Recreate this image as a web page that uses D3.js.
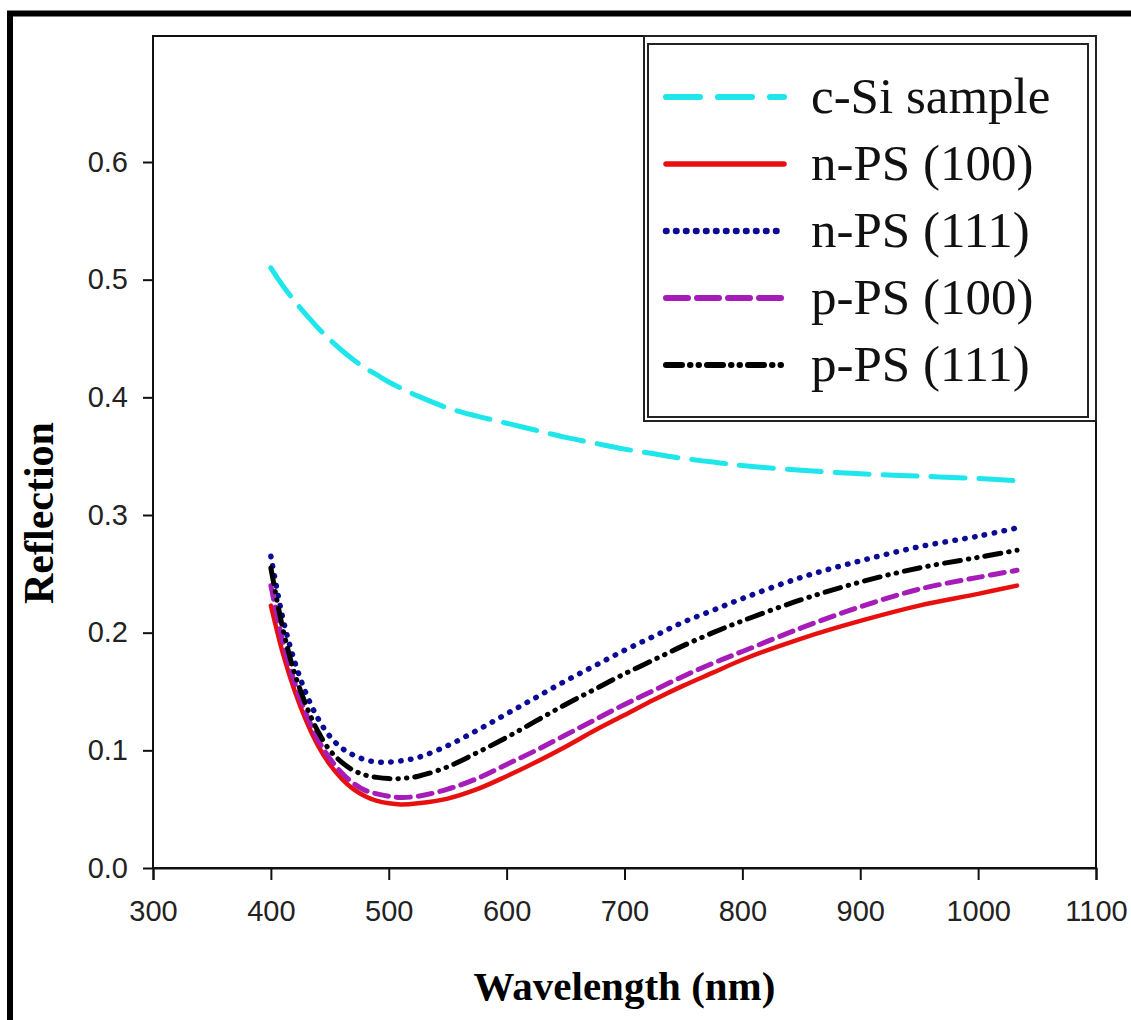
<!DOCTYPE html>
<html lang="en">
<head>
<meta charset="UTF-8">
<title>Reflection vs Wavelength</title>
<script src="https://d3js.org/d3.v7.min.js"></script>
<style>
    body { margin: 0; background: #fff; }
    .tick text { font-family: "Liberation Sans", Arial, sans-serif; font-size: 29px; fill: #222; }
</style>
</head>
<body>
<div id="chart"></div>
<script>
    // wavelength grid (nm)
    const wavelengths = [400, 410, 420, 430, 440, 450, 460, 470, 480, 490, 500, 510, 525, 550, 575, 600, 625, 650, 675, 700, 725, 750, 775, 800, 850, 900, 950, 1000, 1033];

    const cSi    = [0.510, 0.495, 0.482, 0.470, 0.459, 0.449, 0.440, 0.432, 0.425, 0.419, 0.413, 0.408, 0.401, 0.391, 0.384, 0.378, 0.372, 0.366, 0.361, 0.356, 0.352, 0.348, 0.345, 0.342, 0.338, 0.335, 0.333, 0.331, 0.329];
    const nPS100 = [0.223, 0.183, 0.151, 0.125, 0.104, 0.088, 0.076, 0.067, 0.061, 0.057, 0.055, 0.054, 0.055, 0.059, 0.067, 0.078, 0.090, 0.103, 0.117, 0.130, 0.143, 0.155, 0.166, 0.177, 0.195, 0.210, 0.223, 0.233, 0.240];
    const nPS111 = [0.265, 0.213, 0.176, 0.148, 0.127, 0.112, 0.102, 0.096, 0.092, 0.090, 0.090, 0.091, 0.094, 0.104, 0.117, 0.131, 0.145, 0.159, 0.172, 0.185, 0.197, 0.209, 0.219, 0.229, 0.247, 0.261, 0.273, 0.282, 0.289];
    const pPS100 = [0.240, 0.193, 0.158, 0.131, 0.109, 0.093, 0.081, 0.072, 0.066, 0.063, 0.061, 0.060, 0.061, 0.067, 0.076, 0.088, 0.100, 0.113, 0.126, 0.139, 0.151, 0.163, 0.174, 0.184, 0.204, 0.222, 0.237, 0.247, 0.253];
    const pPS111 = [0.255, 0.204, 0.166, 0.138, 0.116, 0.100, 0.090, 0.083, 0.079, 0.077, 0.076, 0.076, 0.078, 0.086, 0.098, 0.111, 0.125, 0.139, 0.152, 0.165, 0.177, 0.189, 0.200, 0.210, 0.228, 0.243, 0.255, 0.264, 0.270];

    const seriesNames = ["c-Si sample", "n-PS (100)", "n-PS (111)", "p-PS (100)", "p-PS (111)"];
    const xTicks = [300, 400, 500, 600, 700, 800, 900, 1000, 1100];
    const yTicks = [0.0, 0.1, 0.2, 0.3, 0.4, 0.5, 0.6];

    const styles = [
        { color: "#1ee6ea", width: 5, dash: "34 14", cap: "round" },
        { color: "#e8100f", width: 4.5, dash: null, cap: "round" },
        { color: "#0b0b96", width: 5.5, dash: "0.5 9.5", cap: "round" },
        { color: "#a51cb8", width: 5, dash: "14 8", cap: "round" },
        { color: "#000000", width: 5, dash: "16 8 0.5 8 0.5 8", cap: "round" }
    ];
    const values = [cSi, nPS100, nPS111, pPS100, pPS111];

    const W = 1131, H = 1020;
    const mLeft = 153, mRight = 1096, mTop = 36, mBottom = 868;

    const svg = d3.select("#chart").append("svg")
        .attr("width", W)
        .attr("height", H);

    svg.append("rect").attr("width", W).attr("height", H).attr("fill", "#fff");

    // outer black frame of the figure (cropped at right and bottom)
    svg.append("rect")
        .attr("x", 10).attr("y", 13.5)
        .attr("width", W + 20).attr("height", H + 20)
        .attr("fill", "none")
        .attr("stroke", "#000")
        .attr("stroke-width", 6);

    const x = d3.scaleLinear().domain([300, 1100]).range([mLeft, mRight]);
    const y = d3.scaleLinear().domain([0, 0.6]).range([mBottom, 162]);

    // plot box
    svg.append("rect")
        .attr("x", mLeft).attr("y", mTop)
        .attr("width", mRight - mLeft).attr("height", mBottom - mTop)
        .attr("fill", "none")
        .attr("stroke", "#111")
        .attr("stroke-width", 2);

    const xAxis = svg.append("g")
        .attr("transform", `translate(0,${mBottom})`)
        .call(d3.axisBottom(x).tickValues(xTicks).tickSize(12).tickPadding(20).tickFormat(d3.format("d")));
    xAxis.select(".domain").attr("stroke-width", 2).attr("stroke", "#111");
    xAxis.selectAll(".tick line").attr("stroke-width", 2).attr("stroke", "#111");

    const yAxis = svg.append("g")
        .attr("transform", `translate(${mLeft},0)`)
        .call(d3.axisLeft(y).tickValues(yTicks).tickSize(10).tickPadding(15).tickFormat(d3.format(".1f")));
    yAxis.select(".domain").remove();
    yAxis.selectAll(".tick line").attr("stroke-width", 2).attr("stroke", "#111");

    // axis titles
    svg.append("text")
        .attr("x", (mLeft + mRight) / 2)
        .attr("y", 1000)
        .attr("text-anchor", "middle")
        .style("font-family", "'Liberation Serif', 'Times New Roman', serif")
        .style("font-weight", "bold")
        .style("font-size", "41px")
        .text("Wavelength (nm)");

    svg.append("text")
        .attr("transform", "translate(53,513) rotate(-90)")
        .attr("text-anchor", "middle")
        .style("font-family", "'Liberation Serif', 'Times New Roman', serif")
        .style("font-weight", "bold")
        .style("font-size", "42px")
        .text("Reflection");

    // curves
    const line = d3.line()
        .x(d => x(d[0]))
        .y(d => y(d[1]))
        .curve(d3.curveCatmullRom.alpha(0.5));

    values.forEach((vals, i) => {
        const pts = wavelengths.map((w, j) => [w, vals[j]]);
        const st = styles[i];
        svg.append("path")
            .datum(pts)
            .attr("d", line)
            .attr("fill", "none")
            .attr("stroke", st.color)
            .attr("stroke-width", st.width)
            .attr("stroke-linecap", st.cap)
            .attr("stroke-linejoin", "round")
            .attr("stroke-dasharray", st.dash);
    });

    // legend with double border
    const legend = svg.append("g");
    legend.append("rect")
        .attr("x", 644).attr("y", mTop)
        .attr("width", mRight - 644).attr("height", 421 - mTop)
        .attr("fill", "#fff").attr("stroke", "#222").attr("stroke-width", 2);
    legend.append("rect")
        .attr("x", 648).attr("y", 44)
        .attr("width", 1088 - 648).attr("height", 417 - 44)
        .attr("fill", "none").attr("stroke", "#222").attr("stroke-width", 2);

    seriesNames.forEach((name, i) => {
        const st = styles[i];
        const ly = 97 + i * 67;
        legend.append("line")
            .attr("x1", 666).attr("x2", 784)
            .attr("y1", ly).attr("y2", ly)
            .attr("stroke", st.color)
            .attr("stroke-width", st.width + 1)
            .attr("stroke-linecap", st.cap)
            .attr("stroke-dasharray", i === 0 ? "34 18" : (i === 3 ? "22 9" : st.dash));
        legend.append("text")
            .attr("x", 811)
            .attr("y", ly + 16)
            .style("font-family", "'Liberation Serif', 'Times New Roman', serif")
            .style("font-size", "51px")
            .attr("fill", "#111")
            .text(name);
    });
</script>
</body>
</html>
